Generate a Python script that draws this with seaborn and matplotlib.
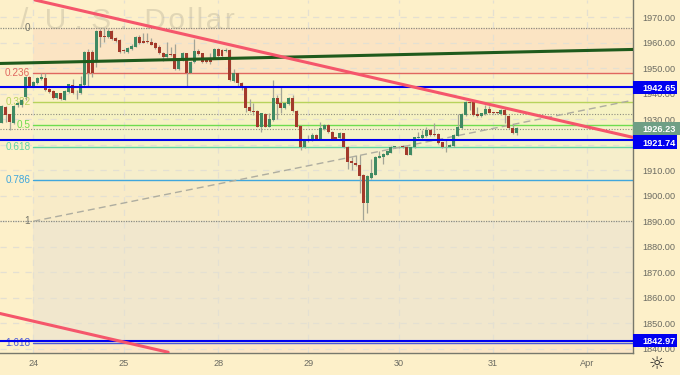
import numpy as np
import pandas as pd
import matplotlib
matplotlib.use("Agg")
import matplotlib.pyplot as plt
from matplotlib.patches import Rectangle
import seaborn as sns

opens = [1928.7,1934.9,1931.9,1928.7,1935.6,1935.6,1938.9,1946.5,1943.0,1944.4,1945.7,1946.3,1942.0,1941.2,1938.2,1940.2,1937.6,1940.8,1943.6,1940.4,1940.2,1943.4,1956.3,1956.3,1952.9,1964.8,1962.8,1962.1,1964.8,1961.9,1961.1,1956.9,1956.5,1957.6,1958.5,1962.4,1960.8,1960.8,1960.4,1959.8,1958.5,1956.1,1954.3,1955.6,1955.6,1949.7,1953.0,1955.9,1948.3,1952.3,1956.9,1955.9,1953.5,1953.5,1953.9,1957.4,1957.2,1956.8,1957.2,1945.0,1948.0,1944.4,1942.5,1934.7,1933.4,1933.4,1927.1,1932.1,1927.1,1929.7,1938.2,1936.2,1934.3,1935.9,1938.2,1933.4,1927.3,1919.0,1922.1,1921.9,1923.8,1922.1,1926.0,1927.7,1925.1,1922.9,1922.5,1924.5,1919.2,1913.6,1913.0,1912.2,1908.1,1897.3,1907.0,1908.2,1915.0,1915.3,1916.1,1916.9,1919.1,1919.2,1919.5,1919.2,1916.1,1919.0,1922.8,1922.5,1923.4,1925.8,1924.2,1924.2,1920.9,1919.2,1919.2,1919.5,1923.6,1926.6,1931.5,1936.8,1936.8,1931.9,1931.3,1932.1,1934.0,1932.8,1932.8,1932.1,1933.6,1931.4,1926.7,1924.7]
closes = [1935.2,1931.7,1929.0,1935.2,1936.2,1937.6,1946.5,1943.0,1944.7,1946.1,1946.5,1941.5,1940.8,1938.2,1940.2,1937.8,1941.2,1943.7,1940.2,1940.2,1943.7,1956.3,1948.3,1948.3,1964.8,1962.4,1962.1,1964.6,1961.4,1960.8,1956.4,1956.7,1957.8,1958.9,1962.4,1959.8,1960.1,1960.4,1959.3,1957.8,1955.9,1954.3,1955.6,1955.3,1949.7,1953.5,1955.9,1948.3,1952.3,1956.9,1955.6,1952.6,1952.6,1952.6,1957.4,1954.8,1954.8,1957.2,1945.4,1948.0,1944.1,1943.0,1934.3,1933.1,1933.0,1927.1,1932.3,1927.1,1930.0,1938.2,1936.0,1934.3,1936.5,1938.2,1933.4,1927.1,1919.0,1921.9,1921.6,1923.8,1922.1,1926.4,1927.7,1925.1,1922.1,1922.1,1924.7,1919.0,1913.3,1912.7,1911.9,1907.7,1897.3,1907.7,1908.8,1915.3,1915.6,1916.4,1917.4,1919.2,1919.4,1919.0,1919.0,1916.1,1919.0,1922.9,1923.2,1923.7,1925.8,1923.8,1923.8,1920.5,1919.0,1919.0,1919.9,1923.8,1926.8,1932.1,1936.8,1936.5,1931.7,1931.3,1932.3,1934.2,1932.6,1932.4,1932.3,1933.6,1931.7,1926.4,1924.7,1926.4]
highs = [1935.6,1935.2,1932.2,1935.6,1936.6,1938.0,1947.0,1947.0,1945.0,1946.5,1948.0,1948.0,1942.3,1941.5,1940.5,1940.5,1941.5,1944.0,1945.7,1941.5,1947.0,1956.6,1957.4,1957.2,1965.2,1965.3,1965.7,1965.3,1965.0,1962.2,1961.4,1957.5,1958.2,1959.4,1962.8,1963.1,1964.0,1963.7,1961.8,1960.4,1959.0,1956.5,1960.4,1958.5,1959.5,1954.0,1956.5,1956.2,1952.7,1961.4,1957.4,1956.2,1954.0,1955.9,1957.8,1957.8,1957.5,1958.1,1957.5,1949.6,1948.3,1944.7,1942.8,1937.8,1936.2,1933.7,1932.6,1932.4,1932.3,1945.4,1939.5,1942.5,1936.8,1938.9,1939.5,1933.7,1927.6,1922.2,1923.8,1924.5,1924.1,1929.0,1928.0,1928.0,1925.4,1923.2,1925.0,1924.8,1919.5,1915.3,1916.0,1916.0,1908.4,1908.0,1914.3,1915.6,1917.7,1916.7,1917.7,1919.5,1919.6,1919.4,1920.0,1919.5,1919.3,1923.2,1925.1,1925.8,1926.8,1926.1,1928.4,1924.5,1921.2,1921.9,1920.2,1924.1,1932.1,1932.4,1937.2,1937.0,1937.0,1934.9,1932.6,1935.6,1935.2,1933.0,1933.0,1934.0,1934.3,1931.7,1928.1,1926.8]
lows = [1928.4,1929.0,1925.8,1928.0,1935.0,1935.0,1937.5,1942.5,1942.5,1944.0,1945.5,1941.0,1940.5,1938.0,1938.0,1937.5,1937.4,1940.5,1940.0,1937.8,1940.0,1943.0,1942.5,1946.5,1950.6,1958.5,1960.4,1961.8,1961.0,1960.5,1956.0,1956.2,1956.2,1957.2,1958.2,1959.4,1959.8,1960.0,1959.0,1957.4,1955.5,1952.9,1954.0,1954.8,1949.4,1949.4,1952.7,1943.0,1948.0,1952.0,1955.2,1952.2,1952.2,1951.5,1953.5,1954.4,1954.4,1956.4,1945.0,1944.7,1942.5,1941.5,1933.0,1932.8,1931.7,1926.8,1925.1,1926.8,1926.8,1929.4,1930.0,1932.3,1934.0,1935.6,1933.0,1926.8,1917.9,1918.7,1921.2,1921.5,1921.8,1921.8,1925.7,1924.8,1921.8,1921.8,1922.2,1918.7,1910.3,1910.1,1911.6,1901.2,1890.5,1893.1,1906.7,1908.0,1914.8,1912.4,1915.8,1916.6,1918.8,1918.7,1918.7,1915.8,1915.8,1918.7,1922.5,1922.0,1923.0,1923.5,1923.5,1920.2,1918.7,1917.3,1919.0,1919.2,1923.3,1926.3,1931.2,1933.6,1931.4,1931.0,1931.0,1931.8,1932.3,1932.2,1932.0,1931.8,1928.7,1926.1,1924.3,1923.8]

y_ticks = [1970,1960,1950,1940,1930,1920,1910,1900,1890,1880,1870,1860,1850,1840]
day_bars = [8,31,55,78,101,125,149]
day_labels = ["24","25","28","29","30","31","Apr"]

fib_ratios = ["0","0.236","0.382","0.5","0.618","0.786","1","1.618"]
fib_prices = [1965.9,1948.0,1936.9,1927.95,1919.0,1906.2,1890.0,1842.3]
fib_colors = ["#8d8d80","#e0675f","#b7d35c","#6edc4e","#5fd6a3","#3fa6dc","#8d8d80","#4a58d8"]
band_colors = ["#fbe4c3","#fbf1c6","#f6f2c3","#f4f3c9","#f6eecb","#f8ebc8","#f1e7cd"]
bottom_band = "#fbe6c6"

blue_levels = [1942.65,1921.74,1842.97]
price_now = 1926.23
dotted_extra = [1932.0]

red_x1 = [8.4,160.6]; red_y1 = [1976.8,1922.9]
red_x2 = [-0.5,42.3]; red_y2 = [1853.8,1838.6]
green_x = [-0.5,160.6]; green_y = [1951.9,1957.4]
dash_x = [8,160]; dash_y = [1890.0,1937.3]

BG = "#fdf0c9"
GRID = "#e4e0d2"
FONT = "Liberation Sans"

sns.set_theme(style="white")
plt.rcParams["font.family"] = FONT

fig = plt.figure(figsize=(6.8,3.75), dpi=100, facecolor=BG)
ax = fig.add_axes([0, 22.5/375, 633/680, 352.5/375], facecolor=BG)

XMIN, XMAX = -0.5, 160.6
YMIN, YMAX = 1838.5, 1976.8

# fib bands
for i, c in enumerate(band_colors):
    ax.fill_between([day_bars[0], XMAX], fib_prices[i+1], fib_prices[i], color=c, lw=0, zorder=0)
ax.fill_between([day_bars[0], XMAX], YMIN, fib_prices[-1], color=bottom_band, lw=0, zorder=0)

# grid
for t in y_ticks:
    ax.axhline(t, color=GRID, lw=0.9, ls=(0,(5,5)), zorder=1)
for b in day_bars:
    ax.axvline(b, color=GRID, lw=0.9, ls=(0,(5,5)), zorder=1)

# watermark
ax.text(4.5, 1968.6, "/  U . S .  " + "\u200a".join("Dollar"), fontsize=21.5, color="#8f8b7c", alpha=0.25,
        ha="left", va="center", zorder=1)

# fib levels
for r, p, c in zip(fib_ratios, fib_prices, fib_colors):
    dotted = r in ("0","1")
    ax.plot([day_bars[0], XMAX],[p,p], color=c, lw=1.0 if not dotted else 0.9,
            ls=(0,(1,1)) if dotted else "-", zorder=2)
    ax.text(day_bars[0]-0.8, p, r, color=c if not dotted else "#77776c", fontsize=7.2,
            ha="right", va="center", zorder=2.5)
ax.plot([XMIN, day_bars[0]],[fib_prices[0]]*2, color="#8d8d80", lw=0.9, ls=(0,(1,1)), zorder=2)
ax.plot([XMIN, day_bars[0]],[fib_prices[6]]*2, color="#8d8d80", lw=0.9, ls=(0,(1,1)), zorder=2)
for p in dotted_extra + [price_now]:
    ax.axhline(p, color="#8d8d80", lw=0.8, ls=(0,(1,1.5)), zorder=2)

# dashed trend
sns.lineplot(x=dash_x, y=dash_y, ax=ax, color="#aeada0", lw=1.0, ls=(0,(5,3)), zorder=2, errorbar=None)

# candles
df = pd.DataFrame({"bar":np.arange(len(opens)),"open":opens,"close":closes,"high":highs,"low":lows})
df["up"] = df["close"] >= df["open"]
df["bottom"] = df[["open","close"]].min(axis=1)
df["height"] = (df["close"]-df["open"]).abs().clip(lower=0.3)
ax.vlines(df["bar"], df["low"], df["high"], color="#a3a496", lw=0.9, zorder=3)
for is_up, col in [(True,"#3f8a63"),(False,"#a33a2b")]:
    sub = df[df["up"]==is_up]
    sns.barplot(x=sub["bar"].to_numpy(), y=sub["height"].to_numpy(), bottom=sub["bottom"].to_numpy(),
                native_scale=True, color=col, saturation=1, width=0.76, gap=0, errorbar=None,
                ax=ax, zorder=4, linewidth=0)

# blue levels
for p in blue_levels:
    ax.axhline(p, color="#0000f0", lw=1.5, zorder=5)

# trend lines
sns.lineplot(x=green_x, y=green_y, ax=ax, color="#1f5a1c", lw=2.2, zorder=5, errorbar=None)
sns.lineplot(x=red_x1, y=red_y1, ax=ax, color="#f5566b", lw=2.2, zorder=6, errorbar=None)
sns.lineplot(x=red_x2, y=red_y2, ax=ax, color="#f5566b", lw=2.2, zorder=6, errorbar=None)

ax.set_xlim(XMIN, XMAX)
ax.set_ylim(YMIN, YMAX)
ax.set_xlabel(""); ax.set_ylabel("")
ax.yaxis.tick_right()
ax.set_yticks(y_ticks)
ax.set_yticklabels([f"{t:.2f}" for t in y_ticks], fontsize=6.6, color="#6b6b62")
ax.set_xticks(day_bars)
ax.set_xticklabels(day_labels, fontsize=6.6, color="#6b6b62")
ax.tick_params(axis="both", length=0)
ax.tick_params(axis="y", pad=6.5)
ax.tick_params(axis="x", pad=4.5)
for s in ["top","left"]:
    ax.spines[s].set_visible(False)
for s in ["right","bottom"]:
    ax.spines[s].set_visible(True)
    ax.spines[s].set_color("#77786c")
    ax.spines[s].set_linewidth(1.0)

# price tags: value, centre of the tag, colour, right end in axes fraction
trans = ax.get_yaxis_transform()
tag_h = 13.3 / 2.548
tags = [(1942.65,1942.5,"#0000f0",44),(1921.74,1921.05,"#0000f0",44),
        (1842.97,1843.1,"#0000f0",44),(price_now,1926.27,"#6f9f85",47)]
for val, centre, c, w in tags:
    ax.add_patch(Rectangle((1.0, centre-tag_h/2), w/633, tag_h, transform=trans, fc=c, ec="none",
                           clip_on=False, zorder=9))
    ax.text(1.0+9/633, centre, f"{val:.2f}", transform=trans, fontsize=6.6, fontweight="bold", color="white",
            ha="left", va="center_baseline", zorder=10, clip_on=False)

# gear
fig.text(657/680, 1-364/375, "\u263c", fontsize=13, color="#2a2a2a", ha="center", va="center", family="DejaVu Sans")

fig.savefig("out.png", dpi=100, facecolor=BG)
